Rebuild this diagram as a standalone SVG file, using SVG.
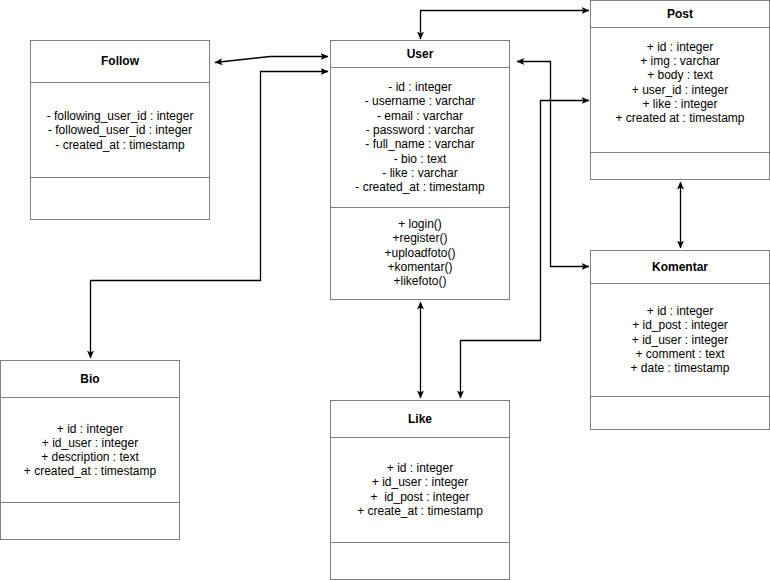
<svg xmlns="http://www.w3.org/2000/svg" width="770" height="580" viewBox="0 0 770 580">
<style>
.box{fill:#fff;stroke:#808080;stroke-width:1}
.div{stroke:#808080;stroke-width:1}
.t{font-family:"Liberation Sans",Arial,sans-serif;font-size:12px;fill:#000;text-anchor:middle;white-space:pre}
.b{font-weight:bold}
.c{fill:none;stroke:#000;stroke-width:1.3}
</style>
<defs>
<marker id="a" viewBox="0 0 8 7" refX="7.5" refY="3.5" markerWidth="8" markerHeight="7" markerUnits="userSpaceOnUse" orient="auto-start-reverse">
<path d="M0,0 L8,3.5 L0,7 L2,3.5 z" fill="#000"/>
</marker>
</defs>
<rect width="770" height="580" fill="#fff"/>

<g id="connectors">
<path class="c" d="M215,62.5 L270,56.5 L328,56.5" marker-start="url(#a)" marker-end="url(#a)"/>
<path class="c" d="M328,71.5 L260.5,71.5 L260.5,280.5 L90.5,280.5 L90.5,358" marker-start="url(#a)" marker-end="url(#a)"/>
<path class="c" d="M420.5,39 L420.5,10.5 L589,10.5" marker-start="url(#a)" marker-end="url(#a)"/>
<path class="c" d="M517,61.5 L550.5,61.5 L550.5,266.5 L589,266.5" marker-start="url(#a)" marker-end="url(#a)"/>
<path class="c" d="M589,100.5 L540.5,100.5 L540.5,340.5 L460.5,340.5 L460.5,398" marker-start="url(#a)" marker-end="url(#a)"/>
<path class="c" d="M420.5,302 L420.5,398" marker-start="url(#a)" marker-end="url(#a)"/>
<path class="c" d="M680.5,182 L680.5,248" marker-start="url(#a)" marker-end="url(#a)"/>
</g>

<g id="follow">
<rect class="box" x="30.5" y="40.5" width="179" height="179"/>
<line class="div" x1="30.5" y1="82.5" x2="209.5" y2="82.5"/>
<line class="div" x1="30.5" y1="177.5" x2="209.5" y2="177.5"/>
<text class="t b" x="120" y="65">Follow</text>
<text class="t" x="120" y="120">- following_user_id : integer</text>
<text class="t" x="120" y="134">- followed_user_id : integer</text>
<text class="t" x="120" y="148.5">- created_at : timestamp</text>
</g>

<g id="user">
<rect class="box" x="330.5" y="40.5" width="179" height="259"/>
<line class="div" x1="330.5" y1="67.5" x2="509.5" y2="67.5"/>
<line class="div" x1="330.5" y1="207.5" x2="509.5" y2="207.5"/>
<text class="t b" x="420" y="58">User</text>
<text class="t" x="420" y="91">- id : integer</text>
<text class="t" x="420" y="105.3">- username : varchar</text>
<text class="t" x="420" y="119.6">- email : varchar</text>
<text class="t" x="420" y="133.9">- password : varchar</text>
<text class="t" x="420" y="148.2">- full_name : varchar</text>
<text class="t" x="420" y="162.5">- bio : text</text>
<text class="t" x="420" y="176.8">- like : varchar</text>
<text class="t" x="420" y="191.1">- created_at : timestamp</text>
<text class="t" x="420" y="228">+ login()</text>
<text class="t" x="420" y="242.3">+register()</text>
<text class="t" x="420" y="256.6">+uploadfoto()</text>
<text class="t" x="420" y="270.9">+komentar()</text>
<text class="t" x="420" y="285.2">+likefoto()</text>
</g>

<g id="post">
<rect class="box" x="590.5" y="0.5" width="179" height="179"/>
<line class="div" x1="590.5" y1="27.5" x2="769.5" y2="27.5"/>
<line class="div" x1="590.5" y1="152.5" x2="769.5" y2="152.5"/>
<text class="t b" x="680" y="18">Post</text>
<text class="t" x="680" y="50.7">+ id : integer</text>
<text class="t" x="680" y="65">+ img : varchar</text>
<text class="t" x="680" y="79.3">+ body : text</text>
<text class="t" x="680" y="93.6">+ user_id : integer</text>
<text class="t" x="680" y="107.9">+ like : integer</text>
<text class="t" x="680" y="122.2">+ created at : timestamp</text>
</g>

<g id="komentar">
<rect class="box" x="590.5" y="250.5" width="179" height="179"/>
<line class="div" x1="590.5" y1="283.5" x2="769.5" y2="283.5"/>
<line class="div" x1="590.5" y1="396.5" x2="769.5" y2="396.5"/>
<text class="t b" x="680" y="271">Komentar</text>
<text class="t" x="680" y="315">+ id : integer</text>
<text class="t" x="680" y="329.3">+ id_post : integer</text>
<text class="t" x="680" y="343.6">+ id_user : integer</text>
<text class="t" x="680" y="357.9">+ comment : text</text>
<text class="t" x="680" y="372.2">+ date : timestamp</text>
</g>

<g id="like">
<rect class="box" x="330.5" y="400.5" width="179" height="179"/>
<line class="div" x1="330.5" y1="437.5" x2="509.5" y2="437.5"/>
<line class="div" x1="330.5" y1="542.5" x2="509.5" y2="542.5"/>
<text class="t b" x="420" y="422.5">Like</text>
<text class="t" x="420" y="472">+ id : integer</text>
<text class="t" x="420" y="486.3">+ id_user : integer</text>
<text class="t" x="420" y="500.6">+  id_post : integer</text>
<text class="t" x="420" y="514.9">+ create_at : timestamp</text>
</g>

<g id="bio">
<rect class="box" x="0.5" y="360.5" width="179" height="179"/>
<line class="div" x1="0.5" y1="397.5" x2="179.5" y2="397.5"/>
<line class="div" x1="0.5" y1="502.5" x2="179.5" y2="502.5"/>
<text class="t b" x="90" y="382.5">Bio</text>
<text class="t" x="90" y="432.5">+ id : integer</text>
<text class="t" x="90" y="446.8">+ id_user : integer</text>
<text class="t" x="90" y="461.1">+ description : text</text>
<text class="t" x="90" y="475.4">+ created_at : timestamp</text>
</g>
</svg>
